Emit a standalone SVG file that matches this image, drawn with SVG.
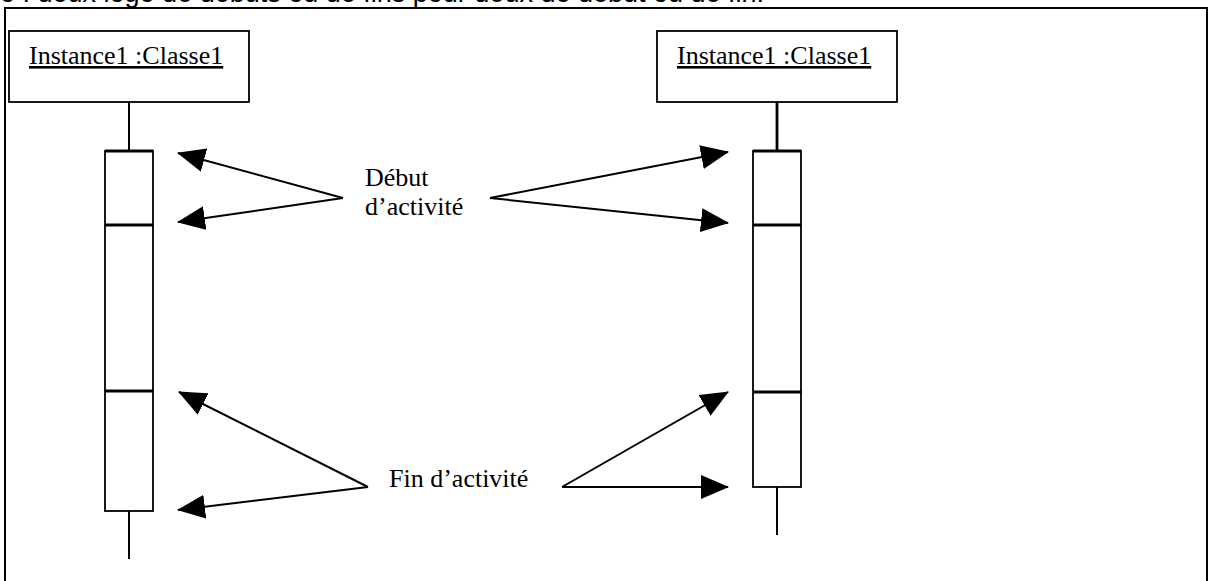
<svg xmlns="http://www.w3.org/2000/svg" width="1209" height="581" viewBox="0 0 1209 581">
  <style>
    .frame { fill: none; stroke: #000; stroke-width: 2; }
    .obj { fill: #fff; stroke: #000; stroke-width: 1.8; }
    .act { fill: #fff; stroke: #000; stroke-width: 1.8; }
    .thick { stroke: #000; stroke-width: 2.8; }
    .life { stroke: #000; stroke-width: 2; }
    .arrow { fill: none; stroke: #000; stroke-width: 2; marker-end: url(#head); }
    .label { font-family: "Liberation Serif", "Times New Roman", serif; font-size: 26px; fill: #000; }
    .name { text-decoration: underline; }
    .caption { font-family: "Liberation Sans", Arial, sans-serif; font-size: 27px; fill: #000; }
  </style>
  <defs>
    <marker id="head" viewBox="0 0 28 24" refX="27" refY="12" markerWidth="28" markerHeight="24" markerUnits="userSpaceOnUse" orient="auto">
      <path d="M0,0 L28,12 L0,24 Z" fill="#000"/>
    </marker>
  </defs>
  <rect width="1209" height="581" fill="#fff"/>

  <!-- caption line above the frame, cut by the page edge -->
  <text class="caption" x="0" y="2">o : deux loge de débuts ou de fins pour deux de début ou de fin.</text>

  <!-- outer frame -->
  <path class="frame" d="M5,581 L5,8 L1207,8 L1207,581"/>

  <!-- left object with its lifeline and activation bar -->
  <g id="obj-left">
    <rect class="obj" x="9" y="31" width="240" height="71"/>
    <text class="label name" x="29" y="64">Instance1 :Classe1</text>
    <line class="life" x1="129" y1="102" x2="129" y2="151"/>
    <rect class="act" x="105" y="151" width="48" height="360"/>
    <line class="thick" x1="105" y1="151" x2="153" y2="151"/>
    <line class="thick" x1="105" y1="225" x2="153" y2="225"/>
    <line class="thick" x1="105" y1="391" x2="153" y2="391"/>
    <line class="life" x1="129" y1="511" x2="129" y2="559"/>
  </g>

  <!-- right object with its lifeline and activation bar -->
  <g id="obj-right">
    <rect class="obj" x="657" y="31" width="240" height="71"/>
    <text class="label name" x="677" y="64">Instance1 :Classe1</text>
    <line class="thick" x1="777" y1="102" x2="777" y2="151"/>
    <rect class="act" x="753" y="151" width="48" height="336"/>
    <line class="thick" x1="753" y1="151" x2="801" y2="151"/>
    <line class="thick" x1="753" y1="225" x2="801" y2="225"/>
    <line class="thick" x1="753" y1="392" x2="801" y2="392"/>
    <line class="life" x1="777" y1="487" x2="777" y2="535"/>
  </g>

  <!-- annotations -->
  <g id="note-start">
    <text class="label" x="365" y="186">Début</text>
    <text class="label" x="365" y="215">d’activité</text>
  </g>
  <g id="note-end">
    <text class="label" x="389" y="487">Fin d’activité</text>
  </g>

  <!-- pointer arrows -->
  <g id="connectors">
    <line class="arrow" x1="343" y1="198" x2="178" y2="153"/>
    <line class="arrow" x1="343" y1="198" x2="178" y2="222"/>
    <line class="arrow" x1="490" y1="198" x2="728" y2="152"/>
    <line class="arrow" x1="490" y1="198" x2="728" y2="223"/>
    <line class="arrow" x1="368" y1="487" x2="179" y2="392"/>
    <line class="arrow" x1="368" y1="487" x2="178" y2="510"/>
    <line class="arrow" x1="562" y1="487" x2="728" y2="392"/>
    <line class="arrow" x1="562" y1="487" x2="728" y2="487"/>
  </g>
</svg>
